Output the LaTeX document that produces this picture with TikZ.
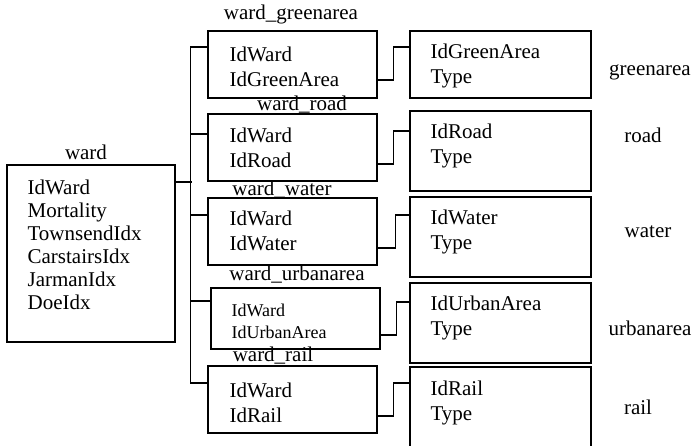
\documentclass[tikz,border=0pt]{standalone}
\usepackage{fontspec}
\setmainfont{Liberation Serif}
\tikzset{
  tbl/.style={draw, line width=1.2pt, inner sep=0pt},
  fld/.style={align=left, inner sep=0pt, anchor=west, font=\fontsize{21}{25}\selectfont},
  lbl/.style={inner sep=0pt, font=\fontsize{21}{25}\selectfont},
}
\begin{document}
\begin{tikzpicture}[x=1pt, y=1pt, line width=1.2pt]
    \useasboundingbox (0,0) rectangle (694,446);

    % ward
    \node [tbl, minimum width=168, minimum height=177] (wd) at (91,192.5) {};
    \node [lbl] (wd-l) at (86,294) {ward};
    \node [fld, font=\fontsize{21}{23}\selectfont] (wd-f) at (27,201)
      {IdWard\\Mortality\\TownsendIdx\\CarstairsIdx\\JarmanIdx\\DoeIdx};

    % link tables
    \node [tbl, minimum width=169, minimum height=67] (wg) at (292.5,381.5) {};
    \node [fld] (wg-f) at (229,379.5) {IdWard\\IdGreenArea};
    \node [lbl] (wg-l) at (291,432) {ward\_greenarea};

    \node [tbl, minimum width=169, minimum height=67] (wr) at (292.5,298.5) {};
    \node [fld] (wr-f) at (229,298) {IdWard\\IdRoad};
    \node [lbl] (wr-l) at (302,341) {ward\_road};

    \node [tbl, minimum width=169, minimum height=67] (ww) at (292.5,214.5) {};
    \node [fld] (ww-f) at (229,215) {IdWard\\IdWater};
    \node [lbl] (ww-l) at (282,256) {ward\_water};

    \node [tbl, minimum width=169, minimum height=61] (wu) at (295.5,127.5) {};
    \node [fld, font=\fontsize{18}{22}\selectfont] (wu-f) at (231,125) {IdWard\\IdUrbanArea};
    \node [lbl] (wu-l) at (297,171) {ward\_urbanarea};

    \node [tbl, minimum width=169, minimum height=67] (wl) at (292.5,46.5) {};
    \node [fld] (wl-f) at (229,43.5) {IdWard\\IdRail};
    \node [lbl] (wl-l) at (273,90) {ward\_rail};

    % feature tables
    \node [tbl, minimum width=181, minimum height=67] (g) at (500.5,381.5) {};
    \node [fld] (g-f) at (430,380) {IdGreenArea\\Type};
    \node [lbl] (g-l) at (650,374) {greenarea};

    \node [tbl, minimum width=181, minimum height=80] (r) at (500.5,295) {};
    \node [fld] (r-f) at (430,300.5) {IdRoad\\Type};
    \node [lbl] (r-l) at (643,311) {road};

    \node [tbl, minimum width=181, minimum height=80] (w) at (500.5,209) {};
    \node [fld] (w-f) at (430,214) {IdWater\\Type};
    \node [lbl] (w-l) at (648,214) {water};

    \node [tbl, minimum width=181, minimum height=80] (u) at (500.5,123) {};
    \node [fld] (u-f) at (430,128.5) {IdUrbanArea\\Type};
    \node [lbl] (u-l) at (650,118) {urbanarea};

    \node [tbl, minimum width=181, minimum height=88] (l) at (500.5,35) {};
    \node [fld] (l-f) at (430,43.5) {IdRail\\Type};
    \node [lbl] (l-l) at (638,39) {rail};

    % ward to link tables
    \draw ([yshift=71.5]wd.east) --++(16,0);
    \draw ([yshift=17.5]wg.west) --++(-17,0) |- ([yshift=16.5]wl.west);
    \draw ([yshift=13.5]wr.west) --++(-17,0);
    \draw ([yshift=16.5]ww.west) --++(-17,0);
    \draw ([yshift=17.5]wu.west) --++(-20,0);

    % link tables to feature tables
    \draw ([yshift=-15.5]wg.east) --++(16,0) |- ([yshift=17.5]g.west);
    \draw ([yshift=-16.5]wr.east) --++(16,0) |- ([yshift=20]r.west);
    \draw ([yshift=-16.5]ww.east) --++(18,0) |- ([yshift=22]w.west);
    \draw ([yshift=-16.5]wu.east) --++(16,0) |- ([yshift=21]u.west);
    \draw ([yshift=-16.5]wl.east) --++(16,0) |- ([yshift=28]l.west);
\end{tikzpicture}
\end{document}
